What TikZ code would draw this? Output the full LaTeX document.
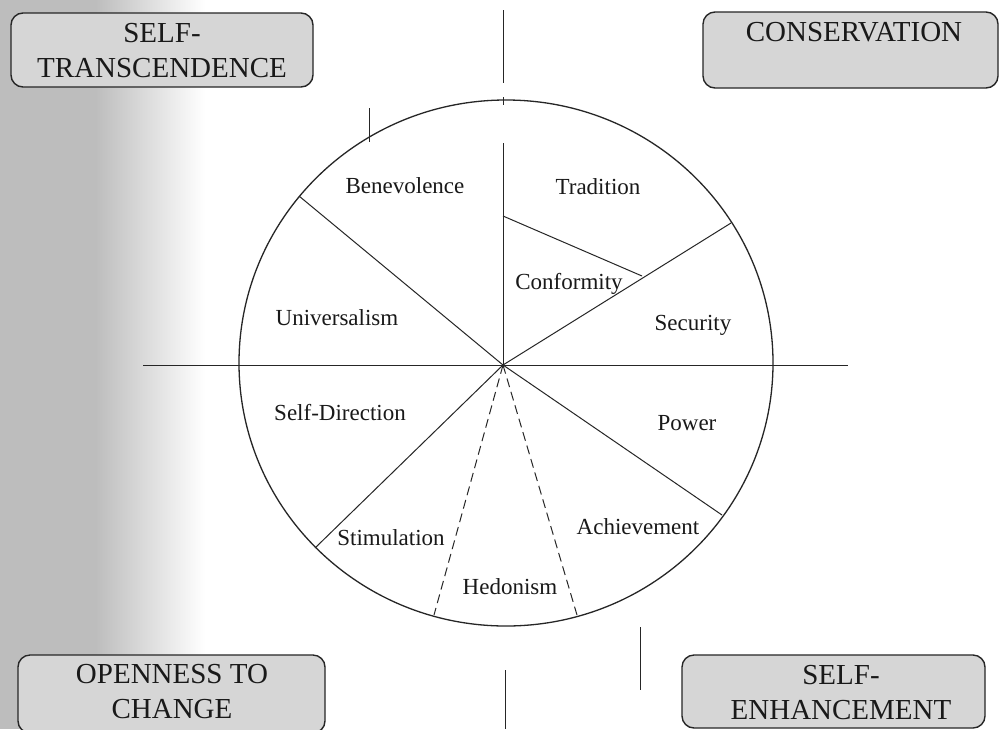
\documentclass[tikz,border=0pt]{standalone}
\usepackage{fontspec}
\setmainfont{Liberation Serif}
\begin{document}
\begin{tikzpicture}[x=1pt,y=-1pt,
  valuebox/.style={draw=black!85, line width=1.4pt, rounded corners=12pt, fill=black!16, inner sep=0pt},
  headline/.style={font=\fontsize{29}{35}\selectfont, align=center, inner sep=0pt, text=black!90},
  value/.style={font=\fontsize{23}{27}\selectfont, inner sep=0pt, text height=15.2pt, text depth=0pt, text=black!90},
  spoke/.style={line width=1pt, black!85},
  hedge/.style={spoke, dash pattern=on 9pt off 5pt}
]
\useasboundingbox (0,0) rectangle (1000,729);
\clip (0,0) rectangle (1000,729);
\fill[white] (0,0) rectangle (1000,729);

% grey tone along the left margin
\fill[black!26] (0,0) rectangle (95,729);
\shade[left color=black!26, right color=white] (95,0) rectangle (205,729);

% corner boxes
\node[valuebox, minimum width=302pt, minimum height=74pt] (st) at (162,50) {};
\node[valuebox, minimum width=295pt, minimum height=76pt] (co) at (850.5,50) {};
\node[valuebox, minimum width=307pt, minimum height=78pt] (oc) at (171.5,694) {};
\node[valuebox, minimum width=303pt, minimum height=73pt] (se) at (833.5,691.5) {};

\node[headline] (stt) at (162,50.5) {SELF-\\TRANSCENDENCE};
\node[headline, text height=19.2pt, text depth=0pt] (cot) at (854,32) {CONSERVATION};
\node[headline] (oct) at (172,691.5) {OPENNESS TO\\CHANGE};
\node[headline] (set) at (841,692.5) {SELF-\\ENHANCEMENT};

% centre and rim points of the wheel
\coordinate (O) at (503,365);
\coordinate (bu) at (299,196);
\coordinate (sc) at (731,223);
\coordinate (pa) at (722,515);
\coordinate (hr) at (577,615);
\coordinate (hl) at (434,615);
\coordinate (ds) at (315,548);
\coordinate (tc1) at (503,216);
\coordinate (tc2) at (642,276);

% the wheel
\draw[line width=1.3pt, black!85] (506,363) ellipse [x radius=267, y radius=263];

% axes
\draw[spoke] (143,365) -- (848,365);
\draw[spoke] (503,10) -- (503,83);
\draw[spoke] (503,97) -- (503,105);
\draw[spoke] (503,143) -- (O);
\draw[spoke] (369,108) -- (369,142);
\draw[spoke] (640,627) -- (640,690);
\draw[spoke] (505,670) -- (505,729);

% sector borders
\draw[spoke] (O) -- (bu);
\draw[spoke] (O) -- (sc);
\draw[spoke] (tc1) -- (tc2);
\draw[spoke] (O) -- (pa);
\draw[spoke] (O) -- (ds);
\draw[hedge] (O) -- (hr);
\draw[hedge] (O) -- (hl);

% value labels
\node[value] (v1) at (405,186) {Benevolence};
\node[value] (v2) at (598,187) {Tradition};
\node[value] (v3) at (569,282) {Conformity};
\node[value] (v4) at (337,318) {Universalism};
\node[value] (v5) at (693,323) {Security};
\node[value] (v6) at (340,413) {Self-Direction};
\node[value] (v7) at (687,423) {Power};
\node[value] (v8) at (391,538) {Stimulation};
\node[value] (v9) at (510,587) {Hedonism};
\node[value] (v10) at (638,527) {Achievement};
\end{tikzpicture}
\end{document}
